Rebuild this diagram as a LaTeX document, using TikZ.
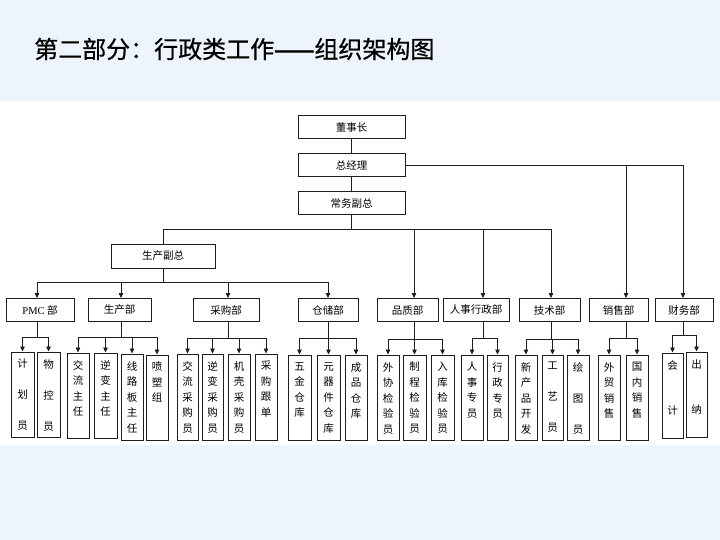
\documentclass[tikz,border=0pt]{standalone}
\usepackage{fontspec}
\setmainfont{Liberation Serif}
\newfontfamily\cjk{Noto Sans CJK SC}
\newfontfamily\cjktitle[FakeBold=0.6]{Noto Sans CJK SC}
\newfontfamily\cjkdash[FakeBold=3]{Noto Sans CJK SC}
\usetikzlibrary{arrows.meta,calc}
\definecolor{bgblue}{HTML}{EEF4FB}
\definecolor{lncol}{HTML}{1E1E1E}
\newcommand\mkbox[7]{%
  \node[subbox, minimum width={(#3)-(#2)}, minimum height={(#5)-(#4)}] (#1) at ({((#2)+(#3))/2},{((#4)+(#5))/2}) {};
  \node[subtext, font={\cjk\fontsize{10.5}{#7}\selectfont}] at ($(#1.north)+(0,7.5)$) {#6};
}
\begin{document}
\begin{tikzpicture}[x=1pt,y=-1pt,
  deptbox/.style={draw=lncol, line width=1pt, inner sep=0pt, font=\cjk\fontsize{10.5}{12}\selectfont},
  subbox/.style={draw=lncol, line width=1pt, inner sep=0pt},
  subtext/.style={anchor=north, inner sep=0pt, align=center},
  conn/.style={draw=lncol, line width=0.75pt},
  arr/.style={conn, -{Triangle[length=5pt,width=4.5pt]}},
]
\fill[bgblue] (0,0) rectangle (720,540);
\fill[white] (0,101) rectangle (720,445);
\path[use as bounding box] (0,0) rectangle (720,540);

\node[anchor=west, inner sep=0pt, font=\cjktitle\fontsize{24}{28}\selectfont, text=black] (title) at (34,49) {第二部分：行政类工作{\cjkdash ——}组织架构图};

% top boxes
\node[deptbox, minimum width=107, minimum height=23] (dsz) at (351.5,127.5) {董事长};
\node[deptbox, minimum width=107, minimum height=23] (zjl) at (351.5,165.5) {总经理};
\node[deptbox, minimum width=107, minimum height=23] (cwfz) at (351.5,203.5) {常务副总};
\node[deptbox, minimum width=104, minimum height=24] (scfz) at (163,256) {生产副总};

% departments
\node[deptbox, minimum width=68, minimum height=23] (pmc) at (40,310) {{\rmfamily PMC}~部};
\node[deptbox, minimum width=63, minimum height=23] (scb) at (119.5,310) {生产部};
\node[deptbox, minimum width=66, minimum height=23] (cgb) at (226,310) {采购部};
\node[deptbox, minimum width=60, minimum height=23] (ccb) at (328,310) {仓储部};
\node[deptbox, minimum width=61, minimum height=23] (pzb) at (407.5,310) {品质部};
\node[deptbox, minimum width=66, minimum height=23] (rsb) at (476,310) {人事行政部};
\node[deptbox, minimum width=61, minimum height=23] (jsb) at (549.5,310) {技术部};
\node[deptbox, minimum width=59, minimum height=23] (xsb) at (618.5,310) {销售部};
\node[deptbox, minimum width=58, minimum height=23] (cwb) at (684,310) {财务部};

% junction points
\coordinate (j1) at (351.5,229);
\coordinate (j2) at (163,282);
\coordinate (pmcj) at (37,337);
\coordinate (scbj) at (121,337);
\coordinate (cgbj) at (228,338);
\coordinate (ccbj) at (328,338);
\coordinate (pzbj) at (414,339);
\coordinate (rsbj) at (483,338);
\coordinate (jsbj) at (551,339);
\coordinate (xsbj) at (626,338);
\coordinate (cwbj) at (683,335);

% top connectors
\draw[conn] (dsz.south) -- (zjl.north);
\draw[conn] (zjl.south) -- (cwfz.north);
\draw[conn] (cwfz.south) -- (j1);
\draw[conn] (j1) -| (scfz.north);
\draw[arr] (j1) -| (pzbj |- pzb.north);
\draw[arr] (j1) -| (rsbj |- rsb.north);
\draw[arr] (j1) -| (jsbj |- jsb.north);
\draw[arr] (zjl.east) -| (xsbj |- xsb.north);
\draw[arr] (zjl.east) -| (cwbj |- cwb.north);
\draw[conn] (scfz.south) -- (j2);
\draw[arr] (j2) -| (pmcj |- pmc.north);
\draw[arr] (j2) -| (scbj |- scb.north);
\draw[arr] (j2) -| (cgbj |- cgb.north);
\draw[arr] (j2) -| (ccbj |- ccb.north);

% sub boxes
\mkbox{jhy}{11}{34}{352}{437}{计\\划\\员}{31}
\mkbox{wky}{37}{60}{352}{437}{物\\控\\员}{31}
\mkbox{jlzr}{67}{89}{353}{438}{交\\流\\主\\任}{15.5}
\mkbox{nbzr}{94}{117}{353}{438}{逆\\变\\主\\任}{15.5}
\mkbox{xlb}{121}{143}{354}{440}{线\\路\\板\\主\\任}{15.5}
\mkbox{pszu}{146}{168}{355}{440}{喷\\塑\\组}{15.5}
\mkbox{jlcg}{177}{198}{354}{440}{交\\流\\采\\购\\员}{15.5}
\mkbox{nbcg}{202}{223}{354}{440}{逆\\变\\采\\购\\员}{15.5}
\mkbox{jkcg}{228}{250}{354}{440}{机\\壳\\采\\购\\员}{15.5}
\mkbox{cggd}{255}{277}{354}{440}{采\\购\\跟\\单}{15.5}
\mkbox{wjck}{288}{311}{355}{440}{五\\金\\仓\\库}{15.5}
\mkbox{yqck}{317}{340}{355}{440}{元\\器\\件\\仓\\库}{15.5}
\mkbox{cpck}{345}{367}{355}{440}{成\\品\\仓\\库}{15.5}
\mkbox{wxjy}{377}{399}{355}{440}{外\\协\\检\\验\\员}{15.5}
\mkbox{zcjy}{403}{426}{355}{440}{制\\程\\检\\验\\员}{15.5}
\mkbox{rkjy}{431}{454}{355}{440}{入\\库\\检\\验\\员}{15.5}
\mkbox{rszy}{461}{483}{355}{440}{人\\事\\专\\员}{15.5}
\mkbox{xzzy}{487}{508}{355}{440}{行\\政\\专\\员}{15.5}
\mkbox{xcp}{515}{537}{355}{440}{新\\产\\品\\开\\发}{15.5}
\mkbox{gyy}{542}{563}{355}{440}{工\\艺\\员}{31}
\mkbox{hty}{567}{589}{355}{440}{绘\\图\\员}{31}
\mkbox{wmxs}{598}{620}{355}{440}{外\\贸\\销\\售}{15.5}
\mkbox{gnxs}{626}{648}{355}{440}{国\\内\\销\\售}{15.5}
\mkbox{kj}{662}{683}{353}{438}{会\\计}{45}
\mkbox{cn}{686}{707}{352}{437}{出\\纳}{45}

% department to sub connectors
\foreach \d/\subs in {pmc/{jhy,wky}, scb/{jlzr,nbzr,xlb,pszu}, cgb/{jlcg,nbcg,jkcg,cggd},
  ccb/{wjck,yqck,cpck}, pzb/{wxjy,zcjy,rkjy}, rsb/{rszy,xzzy}, jsb/{xcp,gyy,hty},
  xsb/{wmxs,gnxs}, cwb/{kj,cn}}{
  \draw[conn] (\d j |- \d.south) -- (\d j);
  \foreach \s in \subs { \draw[arr] (\d j) -| (\s.north); }
}
\end{tikzpicture}
\end{document}
